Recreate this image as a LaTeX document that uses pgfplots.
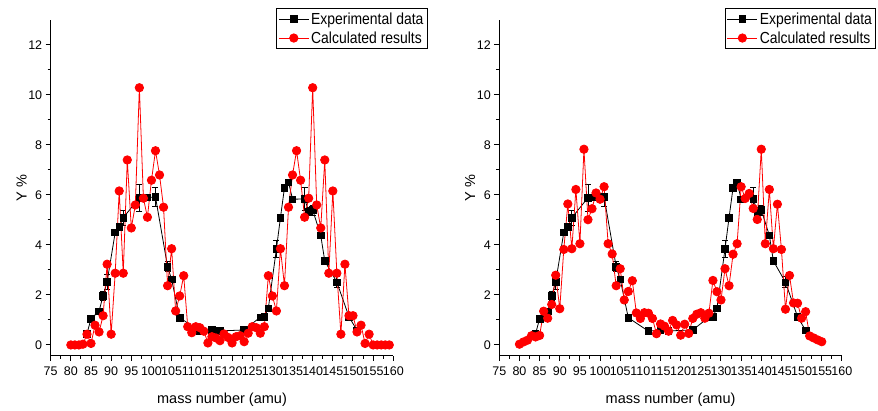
\documentclass[border=0pt]{standalone}
\usepackage{pgfplots}
\pgfplotsset{compat=1.18}
\usepackage{pgfplotstable}
\usepackage{fontspec}
\setmainfont{Liberation Sans}

\pgfplotstableread{
m y e
84 0.45 0.10
85 1.05 0.05
87 1.35 0.10
88 1.97 0.18
89 2.53 0.30
91 4.50 0.10
92 4.73 0.15
93 5.09 0.30
97 5.89 0.55
99 5.90 0.10
101 5.92 0.38
104 3.13 0.20
105 2.62 0.10
107 1.09 0.05
112 0.55 0.05
115 0.60 0.05
117 0.56 0.05
123 0.60 0.05
127 1.11 0.05
128 1.13 0.05
129 1.47 0.10
131 3.84 0.35
132 5.09 0.10
133 6.29 0.10
134 6.51 0.05
135 5.83 0.05
138 5.84 0.45
139 5.35 0.15
140 5.40 0.20
142 4.38 0.05
143 3.36 0.05
146 2.51 0.22
149 1.13 0.10
151 0.58 0.10
}\expdata

\pgfplotstableread{
m y
80 0
81 0
82 0
83 0.03
84 0.43
85 0.06
86 0.79
87 0.52
88 1.17
89 3.23
90 0.43
91 2.87
92 6.16
93 2.87
94 7.40
95 4.68
96 5.60
97 10.29
98 5.87
99 5.11
100 6.59
101 7.77
102 6.80
103 5.51
104 2.37
105 3.85
106 1.36
107 1.96
108 2.77
109 0.73
110 0.49
111 0.73
112 0.69
113 0.55
114 0.08
115 0.33
116 0.28
117 0.17
118 0.44
119 0.30
120 0.08
121 0.33
122 0.37
123 0.13
124 0.47
125 0.73
126 0.69
127 0.47
128 0.73
129 2.77
130 1.96
131 1.36
132 3.85
133 2.37
134 5.51
135 6.80
136 7.77
137 6.59
138 5.11
139 5.87
140 10.29
141 5.60
142 4.68
143 7.40
144 2.87
145 6.16
146 2.87
147 0.43
148 3.23
149 1.17
150 1.17
151 0.52
152 0.79
153 0.06
154 0.43
155 0
156 0
157 0
158 0
159 0
}\calcA

\pgfplotstableread{
m y
80 0.03
81 0.12
82 0.19
83 0.37
84 0.32
85 0.38
86 1.35
87 1.07
88 1.62
89 2.79
90 1.45
91 3.82
92 5.64
93 3.85
94 6.22
95 4.05
96 7.83
97 5.01
98 5.45
99 6.08
100 5.83
101 6.33
102 4.05
103 3.64
104 2.37
105 3.05
106 1.80
107 2.14
108 2.57
109 1.28
110 1.06
111 1.29
112 1.27
113 1.06
114 0.45
115 0.84
116 0.75
117 0.55
118 0.98
119 0.80
120 0.39
121 0.83
122 0.46
123 1.06
124 1.23
125 1.29
126 1.07
127 1.27
128 2.58
129 2.13
130 1.80
131 3.05
132 2.37
133 3.63
134 4.05
135 6.33
136 5.86
137 6.06
138 5.46
139 5.02
140 7.83
141 4.05
142 6.22
143 3.85
144 5.63
145 3.82
146 1.43
147 2.78
148 1.68
149 1.67
150 1.07
151 1.33
152 0.36
153 0.28
154 0.20
155 0.13
}\calcB

\newcommand{\legtxt}[1]{\scalebox{0.87}[1]{#1}}

\pgfplotsset{
  myaxis/.style={
    scale only axis, width=342.6pt, height=335.7pt,
    xmin=75, xmax=160, ymin=-0.43, ymax=13,
    axis x line*=bottom, axis y line*=left,
    axis line style={line width=1pt},
    xtick={75,80,...,160}, ytick={0,2,...,12},
    minor x tick num=1, minor y tick num=1,
    tick align=outside, major tick length=5pt, minor tick length=3pt,
    every tick/.style={black, line width=1pt},
    tick label style={font=\fontsize{12.5}{12.5}\selectfont},
    xticklabel style={yshift=-3pt},
    /pgf/number format/assume math mode=true,
    xlabel={mass number (amu)}, ylabel={Y \%},
    every axis x label/.style={at={(axis description cs:0.5,-0.132)}, anchor=center, font=\fontsize{14.5}{14.5}\selectfont},
    every axis y label/.style={at={(axis description cs:-0.085,0.5)}, rotate=90, anchor=center, font=\fontsize{14.5}{14.5}\selectfont},
    legend style={at={(rel axis cs:1.101,1.036)}, anchor=north east, draw=black, line width=1pt,
      font=\fontsize{16}{18}\selectfont, inner sep=2pt, row sep=2pt},
    legend cell align=left,
    legend image code/.code={\draw[mark repeat=2,mark phase=2] plot coordinates {(0pt,0pt) (15pt,0pt) (30pt,0pt)};},
    clip=false,
  },
  expstyle/.style={black, line width=0.8pt, mark=square*, mark size=3.3pt, mark options={solid, fill=black},
    error bars/.cd, y dir=both, y explicit,
    error bar style={black, line width=0.8pt},
    error mark options={black, mark size=3pt, line width=0.8pt, rotate=90}},
  calcstyle/.style={red, line width=0.8pt, mark=*, mark size=4.2pt, mark options={solid, fill=red}},
}

\begin{document}
\begin{tikzpicture}
\useasboundingbox (-50.7pt,-55.3pt) rectangle (827.3pt,355.7pt);
\begin{axis}[myaxis, at={(0pt,0pt)}, anchor=south west]
\addplot[expstyle] table[x=m, y=y, y error=e] {\expdata};
\addlegendentry{\legtxt{Experimental data}}
\addplot[calcstyle] table[x=m, y=y] {\calcA};
\addlegendentry{\legtxt{Calculated results}}
\end{axis}
\begin{axis}[myaxis, at={(448.6pt,0pt)}, anchor=south west]
\addplot[expstyle] table[x=m, y=y, y error=e] {\expdata};
\addlegendentry{\legtxt{Experimental data}}
\addplot[calcstyle] table[x=m, y=y] {\calcB};
\addlegendentry{\legtxt{Calculated results}}
\end{axis}
\end{tikzpicture}
\end{document}
